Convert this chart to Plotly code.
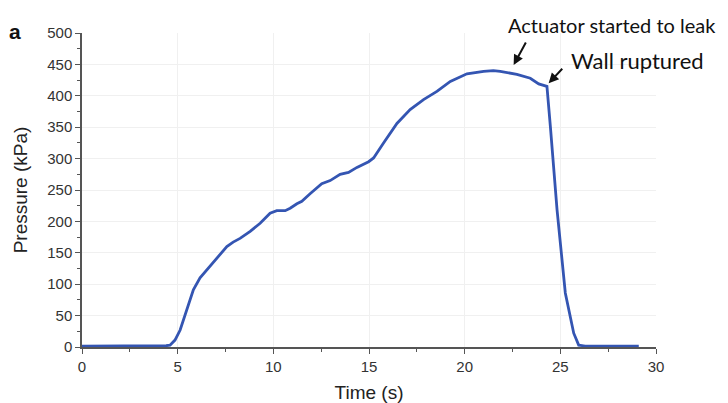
import plotly.graph_objects as go

time_s = [0, 1, 2, 3, 4, 4.4, 4.6, 4.86, 5.13, 5.48, 5.82, 6.17, 6.69, 7.22, 7.57, 7.9,
          8.26, 8.79, 9.31, 9.83, 10.18, 10.62, 10.88, 11.23, 11.49, 11.92, 12.53, 12.97,
          13.49, 13.93, 14.37, 14.98, 15.24, 15.76, 16.46, 17.15, 17.85, 18.55, 19.25,
          20.12, 20.99, 21.5, 21.86, 22.73, 23.43, 23.87, 24.3, 24.48, 24.83, 25.26, 25.7,
          25.96, 26.3, 27, 28, 29.1]
pressure_kpa = [1.5, 1.5, 1.5, 1.5, 1.5, 2, 3, 11, 27, 61, 91, 110, 128, 147, 160, 167,
                173, 184, 197, 213, 217, 217, 221, 228, 232, 244, 260, 265,
                275, 278, 286, 295, 301, 325, 356, 378, 394, 407, 423,
                435, 439, 440, 439, 434, 428, 419, 415, 351, 218, 86, 22,
                3, 1.5, 1.5, 1.5, 1.5]

x_ticks = [0, 5, 10, 15, 20, 25, 30]
y_ticks = [0, 50, 100, 150, 200, 250, 300, 350, 400, 450, 500]

# page body has an 8px margin, so the figure is drawn 8px right/down
OFF = 8
W, H = 720, 395
ML, MT = 82 - OFF, 33 - OFF
PW, PH = 574, 314
MR, MB = W - ML - PW, H - MT - PH


def px(x):  # screen pixel -> paper
    return (x - OFF - ML) / PW


def py(y):
    return (MT + PH - (y - OFF)) / PH


fig = go.Figure()
fig.add_trace(go.Scatter(x=time_s, y=pressure_kpa, mode="lines",
                         line=dict(color="#3455b2", width=2.8), showlegend=False))

axis_common = dict(showline=True, linecolor="#555555", linewidth=1.5,
                   ticks="outside", ticklen=5, tickwidth=1.3, tickcolor="#555555",
                   showgrid=True, gridcolor="#f0f0f0", gridwidth=1, zeroline=False,
                   tickfont=dict(family="Liberation Sans, Arial", size=15, color="#333333"),
                   mirror=False, automargin=False)

fig.update_xaxes(range=[0, 30], tickvals=x_ticks, ticktext=[str(v) for v in x_ticks],
                 title=dict(text="Time (s)", font=dict(family="Liberation Sans, Arial", size=19, color="#222222")),
                 minor=dict(dtick=2.5, ticks="outside", ticklen=3, tickcolor="#555555", showgrid=False),
                 **axis_common)
fig.update_yaxes(range=[0, 500], tickvals=y_ticks, ticktext=[str(v) for v in y_ticks],
                 title=dict(text="Pressure (kPa)", font=dict(family="Liberation Sans, Arial", size=19, color="#222222")),
                 minor=dict(dtick=25, ticks="outside", ticklen=3, tickcolor="#555555", showgrid=False),
                 **axis_common)

fig.add_annotation(x=22.56, y=449, ax=13, ay=-24, xref="x", yref="y",
                   showarrow=True, arrowhead=2, arrowsize=1, arrowwidth=2, arrowcolor="#111111", text="")
fig.add_annotation(x=24.39, y=420, ax=15, ay=-16, xref="x", yref="y",
                   showarrow=True, arrowhead=2, arrowsize=1, arrowwidth=2, arrowcolor="#111111", text="")
text_common = dict(xref="paper", yref="paper", showarrow=False, xanchor="center", yanchor="middle")
fig.add_annotation(x=px(612), y=py(25), text="Actuator started to leak",
                   font=dict(family="Lato", size=20, color="#111111"), **text_common)
fig.add_annotation(x=px(637), y=py(61), text="Wall ruptured",
                   font=dict(family="Lato", size=22, color="#111111"), **text_common)
fig.add_annotation(x=px(15), y=py(31), text="<b>a</b>",
                   font=dict(family="Liberation Sans, Arial", size=21, color="#111111"), **text_common)

fig.update_layout(width=W, height=H, margin=dict(l=ML, r=MR, t=MT, b=MB),
                  plot_bgcolor="white", paper_bgcolor="white")

fig.write_html("out.html")
